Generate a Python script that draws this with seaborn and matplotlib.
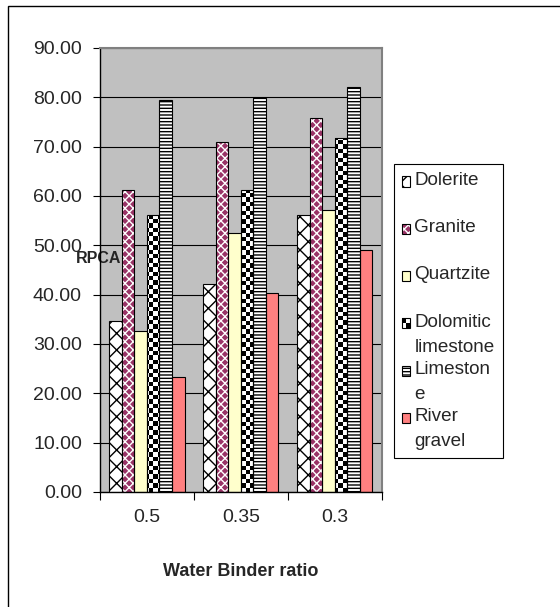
import numpy as np
import pandas as pd
import matplotlib
matplotlib.use("Agg")
import matplotlib.pyplot as plt
import seaborn as sns
from matplotlib.patches import Rectangle
from matplotlib.colors import ListedColormap
from matplotlib.legend_handler import HandlerBase

# ---- data -------------------------------------------------------------
ratios = ["0.5", "0.35", "0.3"]
aggregates = ["Dolerite", "Granite", "Quartzite",
              "Dolomitic limestone", "Limestone", "River gravel"]
legend_labels = ["Dolerite", "Granite", "Quartzite",
                 "Dolomitic\nlimestone", "Limeston\ne", "River\ngravel"]
dolerite = [34.6, 42.1, 56.1]
granite = [61.2, 71.0, 75.8]
quartzite = [32.7, 52.5, 57.1]
dolomitic_limestone = [56.2, 61.2, 71.7]
limestone = [79.5, 79.8, 82.0]
river_gravel = [23.4, 40.3, 49.1]
y_ticks = np.arange(0, 91, 10)

series = [dolerite, granite, quartzite, dolomitic_limestone, limestone, river_gravel]
df = pd.DataFrame({
    "ratio": [r for s in series for r in ratios],
    "aggregate": [a for a, s in zip(aggregates, series) for _ in s],
    "RPCA": [v for s in series for v in s],
})

# ---- fill styles per aggregate -------------------------------------------
styles = {
    "Dolerite": dict(face="white", hatch="xx", hcolor="black"),
    "Granite": dict(face="#993366", hatch="xxxx", hcolor="white"),
    "Quartzite": dict(face="#FFFFCC", hatch=None, hcolor="black"),
    "Dolomitic limestone": dict(face="white", hatch=None, hcolor="black", checker=True),
    "Limestone": dict(face="white", hatch="-----", hcolor="black"),
    "River gravel": dict(face="#FF8080", hatch=None, hcolor="black"),
}

sns.set_style("white")
plt.rcParams["font.family"] = ["Liberation Sans", "DejaVu Sans"]
plt.rcParams["hatch.linewidth"] = 1.0

fig = plt.figure(figsize=(5.6, 6.07), dpi=100)
W, H = 560, 607
ax = fig.add_axes([100 / W, 1 - 492 / H, 281.7 / W, 444 / H])
ax.set_facecolor("#C0C0C0")

sns.barplot(data=df, x="ratio", y="RPCA", hue="aggregate", order=ratios,
            hue_order=aggregates, palette=[styles[a]["face"] for a in aggregates],
            saturation=1, width=0.8, gap=0, errorbar=None, legend=False,
            linewidth=0, ax=ax)

ax.set_xlim(-0.5, len(ratios) - 0.5)
ax.set_ylim(0, 90)

# axes pixel size, used for the checkerboard cell grid
bbox = ax.get_window_extent()
cell = 4.4
nx = int(round(bbox.width / cell))
ny = int(round(bbox.height / cell))
checker = (np.add.outer(np.arange(ny), np.arange(nx)) % 2).astype(float)
checker_cmap = ListedColormap(["white", "black"])

for container, name in zip(ax.containers, aggregates):
    st = styles[name]
    for p in container:
        p.set_facecolor(st["face"])
        p.set_linewidth(0)
        if st["hatch"]:
            p.set_edgecolor(st["hcolor"])
            p.set_hatch(st["hatch"])
        p.set_zorder(2)
        if st.get("checker"):
            im = ax.imshow(checker, cmap=checker_cmap,
                           extent=(-0.5, len(ratios) - 0.5, 0, 90),
                           aspect="auto", interpolation="nearest", zorder=2.5)
            im.set_clip_path(p)
        ax.add_patch(Rectangle((p.get_x(), p.get_y()), p.get_width(), p.get_height(),
                               fill=False, edgecolor="black", linewidth=0.8, zorder=3))

ax.set_xlim(-0.5, len(ratios) - 0.5)
ax.set_ylim(0, 90)

# ---- grid, spines, ticks -----------------------------------------------
ax.set_axisbelow(True)
ax.yaxis.grid(True, color="black", linewidth=0.8)
ax.xaxis.grid(False)
for side in ["left", "bottom"]:
    ax.spines[side].set_color("black")
    ax.spines[side].set_linewidth(1.0)
for side in ["top", "right"]:
    ax.spines[side].set_color("#808080")
    ax.spines[side].set_linewidth(1.5)
for s in ax.spines.values():
    s.set_zorder(4)

ax.set_yticks(y_ticks, labels=[f"{v:.2f}" for v in y_ticks])
ax.tick_params(axis="y", which="major", length=5, width=0.8, color="black",
               direction="out", pad=8, labelsize=14, left=True)
ax.set_xticks(np.arange(len(ratios) + 1) - 0.5, labels=[""] * (len(ratios) + 1))
ax.set_xticks(np.arange(len(ratios)), labels=ratios, minor=True)
ax.tick_params(axis="x", which="major", length=6, width=0.8, color="black",
               direction="out", bottom=True)
ax.tick_params(axis="x", which="minor", length=0, pad=12, labelsize=14)

ax.set_xlabel("Water Binder ratio", fontsize=13, fontweight="bold", labelpad=27)
ax.set_ylabel("RPCA", fontsize=11.5, fontweight="bold", rotation=0,
              ha="center", va="center")
ax.yaxis.set_label_coords((99 - 100) / 281.7, (492 - 258) / 444)


# ---- legend -------------------------------------------------------------
class SwatchHandler(HandlerBase):
    def __init__(self, style, lift):
        super().__init__()
        self.style = style
        self.lift = lift

    def create_artists(self, legend, orig_handle, xdescent, ydescent,
                       width, height, fontsize, trans):
        x0, y0 = -xdescent, -ydescent + self.lift
        st = self.style
        arts = []
        base = Rectangle((x0, y0), width, height, facecolor=st["face"], linewidth=0)
        if st["hatch"]:
            base.set_edgecolor(st["hcolor"])
            base.set_hatch(st["hatch"])
        arts.append(base)
        if st.get("checker"):
            arts.append(Rectangle((x0, y0 + height / 2), width / 2, height / 2,
                                  facecolor="black", linewidth=0))
            arts.append(Rectangle((x0 + width / 2, y0), width / 2, height / 2,
                                  facecolor="black", linewidth=0))
        arts.append(Rectangle((x0, y0), width, height, fill=False,
                              edgecolor="black", linewidth=0.8))
        for a in arts:
            a.set_transform(trans)
        return arts


handles = [c[0] for c in ax.containers]
labels = [lab if "\n" in lab else lab + "\n" for lab in legend_labels]
lift = 8.0
hmap = {h: SwatchHandler(styles[name], lift) for h, name in zip(handles, aggregates)}
leg = ax.legend(handles, labels, handler_map=hmap, loc="upper left",
                bbox_to_anchor=(394 / W, 1 - 164 / H), bbox_transform=fig.transFigure,
                frameon=True, fancybox=False, edgecolor="black", framealpha=1,
                borderpad=0.42, handlelength=0.44, handleheight=0.44,
                handletextpad=0.22, labelspacing=0.29, borderaxespad=0, fontsize=13.6)
leg.get_frame().set_linewidth(0.8)
for t in leg.get_texts():
    t.set_linespacing(1.6)

# outer chart frame
fig.patches.append(Rectangle((7.5 / W, -0.1), 1.2, (H - 5.5) / H + 0.1,
                             transform=fig.transFigure, fill=False,
                             edgecolor="black", linewidth=1.0))

fig.savefig("out.png", dpi=100)
